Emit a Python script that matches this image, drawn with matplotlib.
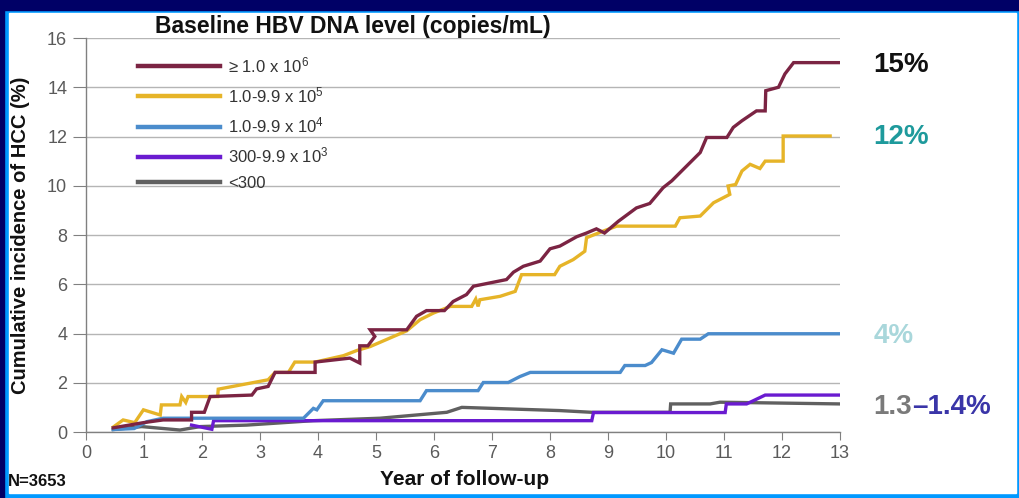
import numpy as np
import matplotlib.pyplot as plt
from matplotlib.patches import Rectangle

plt.rcParams['font.family'] = ['Liberation Sans', 'DejaVu Sans']
plt.rcParams['mathtext.fontset'] = 'custom'
plt.rcParams['mathtext.rm'] = 'Liberation Sans'
plt.rcParams['mathtext.it'] = 'Liberation Sans'
plt.rcParams['mathtext.bf'] = 'Liberation Sans:bold'

# Cumulative incidence of HCC (%) by baseline HBV DNA level
labels = ['\u2265 1.0 x 10$^6$', '1.0-9.9 x 10$^5$', '1.0-9.9 x 10$^4$',
          '300-9.9 x 10$^3$', '<300']
colors = ['#7b2443', '#e6b428', '#4b8ccc', '#6a1bd0', '#606060']

red_t = [0.47, 0.99, 1.33, 1.82, 1.82, 2.04, 2.14, 2.86, 2.94, 3.14, 3.26, 3.95, 3.95,
         4.55, 4.72, 4.72, 4.86, 4.98, 4.90, 5.53, 5.70, 5.87, 6.18, 6.33, 6.56, 6.68,
         7.25, 7.37, 7.54, 7.83, 8.00, 8.17, 8.46, 8.63, 8.80, 8.94, 9.18, 9.49, 9.72,
         9.95, 10.10, 10.27, 10.59, 10.70, 11.05, 11.16, 11.31, 11.56, 11.71, 11.72,
         11.94, 12.05, 12.20, 13.0]
red_v = [0.17, 0.38, 0.49, 0.49, 0.80, 0.80, 1.44, 1.50, 1.75, 1.85, 2.42, 2.42, 2.84,
         3.00, 2.80, 3.50, 3.50, 3.88, 4.15, 4.15, 4.70, 4.93, 4.93, 5.30, 5.58, 5.92,
         6.19, 6.49, 6.73, 6.94, 7.44, 7.55, 7.93, 8.08, 8.25, 8.08, 8.56, 9.10, 9.28,
         9.92, 10.20, 10.60, 11.35, 11.96, 11.96, 12.37, 12.64, 13.04, 13.04, 13.86,
         14.00, 14.54, 15.0, 15.0]

yel_t = [0.47, 0.64, 0.84, 0.99, 1.28, 1.30, 1.62, 1.65, 1.72, 1.76, 2.27, 2.28, 3.14,
         3.26, 3.49, 3.60, 3.95, 4.44, 4.67, 4.90, 5.53, 5.76, 5.99, 6.28, 6.65, 6.72,
         6.76, 6.79, 7.14, 7.40, 7.51, 8.08, 8.17, 8.40, 8.60, 8.63, 8.92, 9.15, 10.16,
         10.24, 10.59, 10.82, 11.10, 11.07, 11.20, 11.31, 11.45, 11.62, 11.71, 12.02,
         12.02, 12.83]
yel_v = [0.20, 0.49, 0.38, 0.90, 0.69, 1.10, 1.10, 1.44, 1.20, 1.44, 1.44, 1.74, 2.12,
         2.42, 2.42, 2.84, 2.84, 3.10, 3.31, 3.47, 4.11, 4.56, 4.83, 5.10, 5.10, 5.40,
         5.10, 5.37, 5.51, 5.71, 6.39, 6.39, 6.73, 7.00, 7.34, 7.89, 8.16, 8.36, 8.36,
         8.70, 8.77, 9.31, 9.65, 9.99, 10.05, 10.60, 10.87, 10.70, 11.00, 11.00,
         12.02, 12.02]

blu_t = [0.47, 0.83, 1.05, 1.33, 3.75, 3.92, 3.98, 4.09, 5.76, 5.87, 6.76, 6.85, 7.28,
         7.48, 7.66, 9.21, 9.29, 9.64, 9.75, 9.93, 10.13, 10.27, 10.59, 10.73, 13.0]
blu_v = [0.10, 0.14, 0.42, 0.56, 0.56, 0.96, 0.90, 1.27, 1.27, 1.68, 1.68, 2.01, 2.01,
         2.25, 2.42, 2.42, 2.70, 2.70, 2.82, 3.34, 3.20, 3.77, 3.77, 3.99, 3.99]

pur_t = [1.82, 2.17, 2.20, 8.72, 8.75, 11.02, 11.04, 11.39, 11.71, 13.0]
pur_v = [0.28, 0.11, 0.46, 0.46, 0.79, 0.79, 1.14, 1.14, 1.50, 1.50]

gry_t = [0.47, 0.96, 1.62, 1.97, 2.77, 3.92, 5.07, 6.22, 6.48, 8.17, 8.72, 10.07, 10.08,
         10.76, 10.93, 13.0]
gry_v = [0.10, 0.22, 0.08, 0.22, 0.28, 0.46, 0.56, 0.80, 1.00, 0.87, 0.80, 0.80, 1.14,
         1.14, 1.21, 1.14]

end_labels = ['15%', '12%', '4%']
end_values = [14.9, 12.0, 3.9]
end_colors = ['#111111', '#1e9a9c', '#a9d7db']

W, H = 1019, 498
fig = plt.figure(figsize=(W / 100, H / 100), dpi=100)
fig.patch.set_facecolor('#0099ff')
# frame: navy at top/left, bright blue border, white panel
fig.patches.append(Rectangle((0, 1 - 10 / H), 1, 10 / H, transform=fig.transFigure,
                             color='#000066', zorder=-3))
fig.patches.append(Rectangle((0, 0), 4 / W, 1, transform=fig.transFigure,
                             color='#000066', zorder=-3))
fig.patches.append(Rectangle((9 / W, 5 / H), (1016 - 9) / W, (485 - 5) / H,
                             transform=fig.transFigure, color='white', zorder=-2))

ax = fig.add_axes([86 / W, (H - 432) / H, (840 - 86) / W, (432 - 38) / H])
ax.set_facecolor('none')

series = [(red_t, red_v), (yel_t, yel_v), (blu_t, blu_v), (pur_t, pur_v), (gry_t, gry_v)]
handles = []
for i, (t, v) in enumerate(series):
    h, = ax.plot(t, v, color=colors[i], lw=2.4, zorder=10 - i, label=labels[i],
                 solid_joinstyle='miter')
    handles.append(h)

ax.set_xlim(0, 13)
ax.set_ylim(0, 16)
ax.set_xticks(range(0, 14))
ax.set_yticks(range(0, 17, 2))
ax.yaxis.grid(True, color='#b5b5b5', lw=1.0)
ax.set_axisbelow(True)
for s in ['top', 'right']:
    ax.spines[s].set_visible(False)
for s in ['left', 'bottom']:
    ax.spines[s].set_color('#808080')
    ax.spines[s].set_linewidth(1.0)
ax.tick_params(axis='y', length=9.5, color='#808080', pad=4, labelsize=13,
               labelcolor='#5a5a5a')
ax.tick_params(axis='x', length=6, color='#808080', pad=3, labelsize=13,
               labelcolor='#5a5a5a')

ax.set_ylabel('Cumulative incidence of HCC (%)', fontsize=14.5, fontweight='bold',
              color='#111111')
ax.yaxis.set_label_coords(-(86 - 30) / 754, 0.5)
ax.set_xlabel('Year of follow-up', fontsize=15, fontweight='bold', color='#111111')
ax.xaxis.set_label_coords((465 - 86) / 754, -(470 - 432) / 394)

leg = ax.legend(handles=handles, loc='upper left', bbox_to_anchor=(52 / 754, 1 - 17 / 394),
                frameon=False, fontsize=12, handlelength=4.9, handletextpad=0.5,
                labelspacing=0.62, borderaxespad=0, borderpad=0)
for txt in leg.get_texts():
    txt.set_color('#333333')
for lh in leg.legend_handles:
    lh.set_linewidth(3.2)

fig.text(155 / W, 1 - 27 / H, 'Baseline HBV DNA level (copies/mL)', fontsize=16.5,
         fontweight='bold', color='#111111', va='center', ha='left')

for lab, val, col in zip(end_labels, end_values, end_colors):
    ax.annotate(lab, xy=(13, val), xytext=(24, 0), textcoords='offset points',
                fontsize=20, fontweight='bold', color=col, va='center', ha='left',
                annotation_clip=False)
t1 = ax.annotate('1.3', xy=(13, 1.0), xytext=(24, 0), textcoords='offset points',
                 fontsize=20, fontweight='bold', color='#7a7a7a', va='center', ha='left',
                 annotation_clip=False)
ax.annotate('\u20131.4%', xycoords=t1, xy=(1, 0.5), fontsize=20, fontweight='bold',
            color='#3a35a8', va='center', ha='left', annotation_clip=False)

fig.text(8 / W, 1 - 481 / H, 'N=3653', fontsize=12, fontweight='bold', color='#111111',
         va='center', ha='left')

fig.savefig('out.png', dpi=100)
